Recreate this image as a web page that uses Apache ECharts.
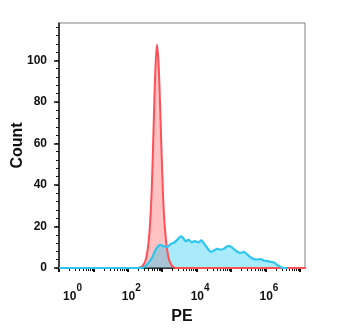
<!DOCTYPE html>
<html>
<head>
<meta charset="utf-8">
<script src="https://cdn.jsdelivr.net/npm/echarts@6/dist/echarts.min.js"></script>
<style>
  html, body { margin: 0; padding: 0; background: #fff; }
  #chart { width: 350px; height: 332px; }
</style>
</head>
<body>
<div id="chart"></div>
<script>
// x values are log10(PE)
var redX = [2.30, 2.40, 2.45, 2.50, 2.55, 2.60, 2.65, 2.70, 2.75, 2.80, 2.85, 2.90, 2.95, 3.00, 3.05, 3.10, 3.15, 3.20, 3.25, 3.30, 3.40, 7.15];
var redY = [0, 0.5, 1.5, 3, 6, 12, 22, 40, 68, 95, 107.5, 96, 72, 46, 26, 15, 8, 4, 2, 0.8, 0, 0];

var blueX = [0.0, 2.40, 2.50, 2.60, 2.70, 2.80, 2.90, 2.95, 3.05, 3.15, 3.25, 3.35, 3.45, 3.55, 3.62, 3.68, 3.77, 3.85, 3.95, 4.05, 4.13, 4.22, 4.32, 4.42, 4.52, 4.60, 4.70, 4.80, 4.93, 5.05, 5.15, 5.27, 5.37, 5.45, 5.55, 5.65, 5.75, 5.85, 5.95, 6.05, 6.15, 6.25, 6.35, 6.45, 6.55, 6.65];
var blueY = [0, 0, 0.8, 2.5, 4.8, 8.5, 10.8, 11.2, 10.4, 10.3, 11.6, 12.3, 13.8, 15.2, 14.2, 12.9, 13.6, 12.4, 12.9, 12.3, 13.3, 11.6, 9.4, 7.8, 8.6, 9.2, 8.8, 9.4, 10.7, 9.6, 8.2, 7.2, 7.8, 6.8, 5.4, 4.4, 4.1, 4.3, 3.6, 3.3, 3.0, 2.6, 1.4, 0.4, 0, 0];

var xMajor = [0, 1, 2, 3, 4, 5, 6, 7];
var xLabels = [0, 2, 4, 6];
var yMajor = [0, 20, 40, 60, 80, 100];

var xMinor = [];
xMajor.forEach(function (n) {
  for (var k = 2; k <= 9; k++) {
    var v = n + Math.log10(k);
    if (v < 7.15) xMinor.push(v);
  }
});
var yMinor = [];
for (var t = 0; t <= 116; t += 4) yMinor.push(t);

function pairs(xs, ys) {
  return xs.map(function (x, i) { return [x, ys[i]]; });
}

var font = 'Liberation Sans, Arial, sans-serif';
var myChart = echarts.init(document.getElementById('chart'));
var option = {
  animation: false,
  grid: {
    left: 59, top: 23, width: 246, height: 245,
    outerBoundsMode: 'none', containLabel: false,
    show: true, borderColor: '#808080', borderWidth: 1
  },
  xAxis: [{
    type: 'value', min: 0, max: 7.15, position: 'bottom',
    name: 'PE', nameLocation: 'middle', nameGap: 41, nameMoveOverlap: false,
    nameTextStyle: { fontFamily: font, fontWeight: 'bold', fontSize: 16, color: '#111' },
    axisLine: { show: true, onZero: false, lineStyle: { color: '#111', width: 1.5 } },
    axisTick: { show: true, customValues: xMajor, length: 4, lineStyle: { color: '#111', width: 2 } },
    axisLabel: {
      customValues: xLabels, margin: 15, color: '#111',
      formatter: function (v) {
        return (v === 0 ? '{f|10}' : '{b|10}') + '{s|' + v + '}';
      },
      rich: {
        f: { fontFamily: font, fontWeight: 'bold', fontSize: 12, color: '#111', verticalAlign: 'bottom', lineHeight: 20, padding: [0, 0, 0, 27] },
        b: { fontFamily: font, fontWeight: 'bold', fontSize: 12, color: '#111', verticalAlign: 'bottom', lineHeight: 20, padding: [0, 0, 0, 7] },
        s: { fontFamily: font, fontWeight: 'bold', fontSize: 10, color: '#111', verticalAlign: 'top', lineHeight: 20 }
      }
    },
    splitLine: { show: false }
  }, {
    type: 'value', min: 0, max: 7.15, position: 'bottom',
    axisLine: { show: false },
    axisTick: { show: true, customValues: xMinor, length: 3, lineStyle: { color: '#111', width: 1 } },
    axisLabel: { show: false },
    splitLine: { show: false }
  }],
  yAxis: [{
    type: 'value', min: 0, max: 118, interval: 20, position: 'left',
    name: 'Count', nameLocation: 'middle', nameGap: 33, nameMoveOverlap: false,
    nameTextStyle: { fontFamily: font, fontWeight: 'bold', fontSize: 16, color: '#111' },
    axisLine: { show: true, lineStyle: { color: '#111', width: 1.5 } },
    axisTick: { show: true, customValues: yMajor, length: 5, lineStyle: { color: '#111', width: 1.5 } },
    axisLabel: { customValues: yMajor, margin: 12, fontFamily: font, fontWeight: 'bold', fontSize: 12, color: '#111' },
    splitLine: { show: false }
  }, {
    type: 'value', min: 0, max: 118, interval: 4, position: 'left',
    axisLine: { show: false },
    axisTick: { show: true, customValues: yMinor, length: 3, lineStyle: { color: '#111', width: 1 } },
    axisLabel: { show: false },
    splitLine: { show: false }
  }],
  series: [{
    name: 'control', type: 'line', xAxisIndex: 0, yAxisIndex: 0,
    data: pairs(redX, redY), smooth: 0.4, symbol: 'none',
    lineStyle: { color: '#ff5058', width: 2 },
    areaStyle: { color: 'rgba(255, 55, 55, 0.44)' }
  }, {
    name: 'sample', type: 'line', xAxisIndex: 0, yAxisIndex: 0,
    data: pairs(blueX, blueY), smooth: 0.4, symbol: 'none',
    lineStyle: { color: '#2cc6f0', width: 2.2 },
    areaStyle: { color: 'rgba(20, 200, 245, 0.52)' }
  }]
};
myChart.setOption(option);
</script>
</body>
</html>
